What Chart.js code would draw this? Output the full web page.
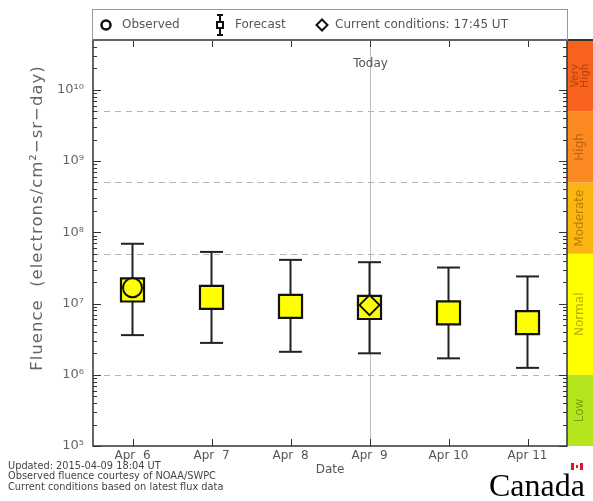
<!DOCTYPE html>
<html>
<head>
<meta charset="utf-8">
<script src="https://cdn.jsdelivr.net/npm/chart.js@4.4.1/dist/chart.umd.min.js"></script>
<style>
  html, body { margin: 0; padding: 0; background: #fff; }
  #wrap { width: 593px; height: 501px; }
</style>
</head>
<body>
<div id="wrap"><canvas id="fluenceChart" width="593" height="501"></canvas></div>
<script>
// forecast days (April 2015) and tick labels
const days = [6, 7, 8, 9, 10, 11];
const xTickLabels = ['Apr  6', 'Apr  7', 'Apr  8', 'Apr  9', 'Apr 10', 'Apr 11'];

// electron fluence, electrons/cm2-sr-day
const forecast     = [1.55e7, 1.22e7, 9.1e6, 8.8e6, 7.4e6, 5.4e6];
const forecastHigh = [6.9e7, 5.3e7, 4.1e7, 3.8e7, 3.2e7, 2.4e7];
const forecastLow  = [3.6e6, 2.8e6, 2.1e6, 2.0e6, 1.7e6, 1.25e6];

const observedDays = [6];
const observed     = [1.66e7];

const currentDays = [9];
const current     = [9.5e6];
const todayDay = 9;

const yTicks = [1e5, 1e6, 1e7, 1e8, 1e9, 1e10];
const yTickLabels = ['10\u2075', '10\u2076', '10\u2077', '10\u2078', '10\u2079', '10\u00b9\u2070'];

// activity levels (colour bar)
const levelNames  = ['Low', 'Normal', 'Moderate', 'High', 'Very High'];
const levelBounds = [1e5, 1e6, 5e7, 5e8, 5e9, 5e10];
const levelColors = ['#b5e61d', '#ffff00', '#fcb614', '#fb8a22', '#f8621c'];
const levelText   = ['#76a00a', '#b8ae00', '#b87c00', '#c0600c', '#b0440c'];

const FONT = '"DejaVu Sans", sans-serif';
const GREY = '#555';

const decor = {
  id: 'decor',
  beforeDatasetsDraw(chart) {
    const { ctx, chartArea: a, scales: { x, y } } = chart;
    ctx.save();
    // colour bar
    for (let i = 0; i < levelNames.length; i++) {
      const top = y.getPixelForValue(levelBounds[i + 1]);
      const bot = y.getPixelForValue(levelBounds[i]);
      ctx.fillStyle = levelColors[i];
      ctx.fillRect(a.right, top, chart.width - a.right, bot - top);
      ctx.save();
      ctx.translate(a.right + 13, (top + bot) / 2);
      ctx.rotate(-Math.PI / 2);
      ctx.fillStyle = levelText[i];
      ctx.font = '12px ' + FONT;
      ctx.textAlign = 'center';
      ctx.textBaseline = 'middle';
      const parts = levelNames[i].split(' ');
      if (parts.length > 1) {
        ctx.font = '10.5px ' + FONT;
        ctx.fillText(parts[0], 0, -5);
        ctx.fillText(parts[1], 0, 5);
      } else {
        ctx.fillText(parts[0], 0, 0);
      }
      ctx.restore();
    }
    // threshold lines
    ctx.strokeStyle = '#b4b4b4';
    ctx.lineWidth = 1;
    ctx.setLineDash([6, 5]);
    levelBounds.slice(1, -1).forEach(v => {
      const py = Math.round(y.getPixelForValue(v)) + 0.5;
      ctx.beginPath(); ctx.moveTo(a.left, py); ctx.lineTo(a.right, py); ctx.stroke();
    });
    ctx.setLineDash([]);
    // today
    const tx = Math.round(x.getPixelForValue(todayDay)) + 0.5;
    ctx.strokeStyle = '#bdbdbd';
    ctx.beginPath(); ctx.moveTo(tx, a.top); ctx.lineTo(tx, a.bottom); ctx.stroke();
    ctx.fillStyle = GREY;
    ctx.font = '12px ' + FONT;
    ctx.textAlign = 'center';
    ctx.textBaseline = 'middle';
    ctx.fillText('Today', tx, a.top + 24);
    ctx.restore();
  },
  afterDraw(chart) {
    const { ctx, chartArea: a, scales: { x, y } } = chart;
    ctx.save();
    // ticks, pointing inwards
    ctx.strokeStyle = '#333';
    ctx.lineWidth = 1;
    days.forEach(d => {
      const px = Math.round(x.getPixelForValue(d)) + 0.5;
      ctx.beginPath();
      ctx.moveTo(px, a.bottom); ctx.lineTo(px, a.bottom - 7);
      ctx.moveTo(px, a.top); ctx.lineTo(px, a.top + 7);
      ctx.stroke();
    });
    for (let e = 5; e <= 10; e++) {
      for (let m = 1; m <= 9; m++) {
        const v = m * Math.pow(10, e);
        if (v > y.max) break;
        const py = Math.round(y.getPixelForValue(v)) + 0.5;
        const len = m === 1 ? 8 : 4;
        ctx.beginPath();
        ctx.moveTo(a.left, py); ctx.lineTo(a.left + len, py);
        ctx.moveTo(a.right, py); ctx.lineTo(a.right - len, py);
        ctx.stroke();
      }
    }
    // frame
    ctx.strokeStyle = '#333';
    ctx.lineWidth = 1.5;
    ctx.strokeRect(a.left, a.top, a.right - a.left, a.bottom - a.top);
    ctx.lineWidth = 2;
    ctx.beginPath(); ctx.moveTo(a.left - 1, a.top); ctx.lineTo(chart.width, a.top); ctx.stroke();

    // legend box
    ctx.strokeStyle = '#999';
    ctx.lineWidth = 1;
    ctx.strokeRect(a.left - 0.5, 9.5, a.right - a.left + 1, a.top - 9.5);
    const ly = 25;
    ctx.strokeStyle = '#111';
    ctx.lineWidth = 2.5;
    ctx.beginPath(); ctx.arc(106, ly, 4.5, 0, Math.PI * 2); ctx.stroke();
    ctx.lineWidth = 2;
    ctx.beginPath();
    ctx.moveTo(220, 15); ctx.lineTo(220, 35);
    ctx.moveTo(217, 15); ctx.lineTo(223, 15);
    ctx.moveTo(217, 35); ctx.lineTo(223, 35);
    ctx.stroke();
    ctx.fillStyle = '#fff';
    ctx.fillRect(217, 22, 6, 6);
    ctx.strokeRect(217, 22, 6, 6);
    ctx.beginPath();
    ctx.moveTo(322, ly - 5.5); ctx.lineTo(327.5, ly); ctx.lineTo(322, ly + 5.5); ctx.lineTo(316.5, ly);
    ctx.closePath(); ctx.stroke();
    ctx.fillStyle = GREY;
    ctx.font = '12px ' + FONT;
    ctx.textAlign = 'left';
    ctx.textBaseline = 'middle';
    ctx.fillText('Observed', 122, ly);
    ctx.fillText('Forecast', 235, ly);
    ctx.fillText('Current conditions: 17:45 UT', 335, ly);

    // y axis title
    ctx.save();
    ctx.translate(38, 218);
    ctx.rotate(-Math.PI / 2);
    ctx.textAlign = 'center';
    ctx.fillStyle = '#666';
    ctx.font = '16.5px ' + FONT;
    ctx.letterSpacing = '1px';
    ctx.fillText('Fluence  (electrons/cm\u00b2\u2212sr\u2212day)', 0, 0);
    ctx.restore();

    // notes
    ctx.fillStyle = '#444';
    ctx.font = '9.8px ' + FONT;
    ctx.fillText('Updated: 2015-04-09 18:04 UT', 8, 466);
    ctx.fillText('Observed fluence courtesy of NOAA/SWPC', 8, 476.5);
    ctx.fillText('Current conditions based on latest flux data', 8, 487);

    // Canada wordmark
    ctx.fillStyle = '#000';
    ctx.font = '32px "Liberation Serif", serif';
    ctx.textBaseline = 'alphabetic';
    ctx.fillText('Canada', 489, 496);
    ctx.fillStyle = '#e8112d';
    ctx.fillRect(571, 463, 3, 7);
    ctx.fillRect(580, 463, 3, 7);
    ctx.fillRect(576, 465, 2, 3);
    ctx.restore();
  }
};

const whiskers = [];
const caps = [];
days.forEach((d, i) => {
  whiskers.push({ x: d, y: forecastLow[i] }, { x: d, y: forecastHigh[i] }, { x: d, y: null });
  caps.push({ x: d, y: forecastLow[i] }, { x: d, y: forecastHigh[i] });
});

new Chart(document.getElementById('fluenceChart'), {
  type: 'scatter',
  data: {
    datasets: [
      { label: 'Observed', data: observedDays.map((d, i) => ({ x: d, y: observed[i] })),
        pointStyle: 'circle', radius: 9.5, backgroundColor: '#ffff00', borderColor: '#111', borderWidth: 2, order: 0 },
      { label: 'Current', data: currentDays.map((d, i) => ({ x: d, y: current[i] })),
        pointStyle: 'rectRot', radius: 10, backgroundColor: '#ffff00', borderColor: '#111', borderWidth: 2, order: 1 },
      { label: 'Forecast', data: days.map((d, i) => ({ x: d, y: forecast[i] })),
        pointStyle: 'rect', radius: 16.3, backgroundColor: '#ffff00', borderColor: '#111', borderWidth: 2.2, order: 2 },
      { label: 'caps', data: caps, pointStyle: 'line', radius: 11.5, borderColor: '#222', borderWidth: 2, order: 3 },
      { label: 'range', data: whiskers, showLine: true, spanGaps: false, pointRadius: 0,
        borderColor: '#222', borderWidth: 2, order: 4 }
    ]
  },
  options: {
    responsive: false,
    animation: false,
    events: [],
    layout: { padding: { top: 40, right: 26, left: 0, bottom: 24 } },
    plugins: { legend: { display: false }, tooltip: { enabled: false } },
    scales: {
      x: {
        type: 'linear', min: 5.5, max: 11.5,
        grid: { display: false, drawTicks: false },
        border: { display: false },
        afterBuildTicks: s => { s.ticks = days.map(v => ({ value: v })); },
        afterFit: s => { s.height = 31; },
        ticks: { padding: 3, color: GREY, font: { family: FONT, size: 12 },
          callback: (v, i) => xTickLabels[i] },
        title: { display: true, text: 'Date', color: GREY, font: { family: FONT, size: 12 }, padding: 0 }
      },
      y: {
        type: 'logarithmic', min: 1e5, max: 5e10,
        grid: { display: false, drawTicks: false },
        border: { display: false },
        afterBuildTicks: s => { s.ticks = yTicks.map(v => ({ value: v })); },
        afterFit: s => { s.width = 93; },
        ticks: { padding: 9, color: '#666', font: { family: FONT, size: 13 },
          callback: (v, i) => yTickLabels[i] }
      }
    }
  },
  plugins: [decor]
});
</script>
</body>
</html>
